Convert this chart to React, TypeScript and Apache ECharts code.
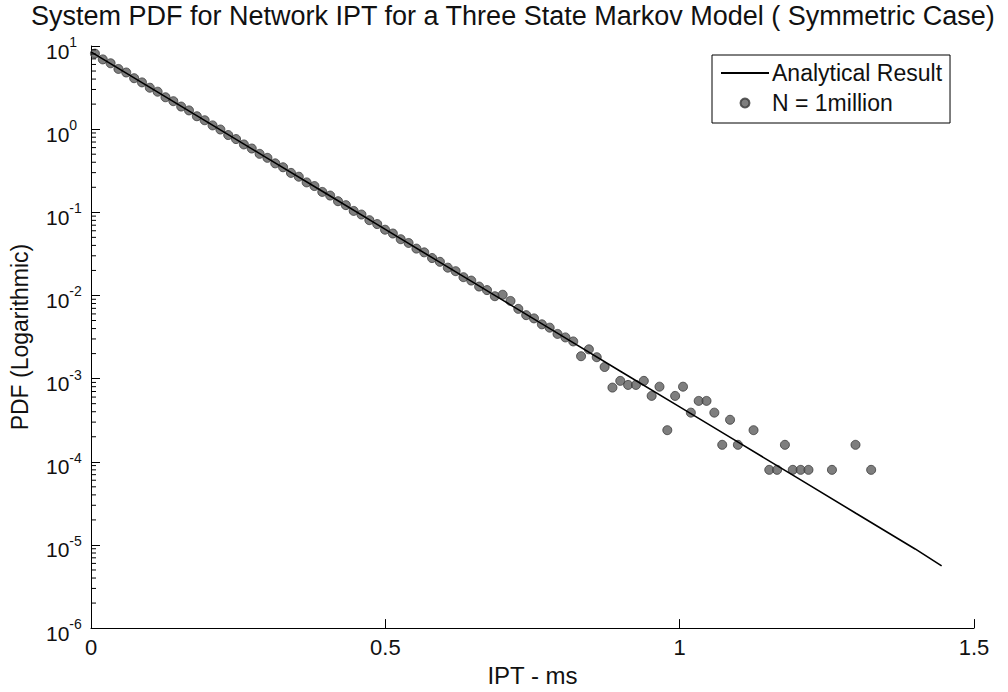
import React, { useEffect, useRef } from "react";
import * as echarts from "echarts";

const FONT = "'Liberation Sans', Arial, Helvetica, sans-serif";

const titleText = "System PDF for Network IPT for a Three State Markov Model ( Symmetric Case)";
const xAxisName = "IPT - ms";
const yAxisName = "PDF (Logarithmic)";
const lineName = "Analytical Result";
const pointsName = "N = 1million";

// Analytical result
const lineX = [0, 0.1, 0.2, 0.3, 0.4, 0.5, 0.6, 0.7, 0.8, 0.9, 1.0, 1.1, 1.2, 1.3, 1.4, 1.445];
const lineY = [8.5, 3.18, 1.19, 0.446, 0.167, 0.0624, 0.0233, 0.00873, 0.00327, 0.00122, 4.57e-4, 1.71e-4, 6.4e-5, 2.39e-5, 8.95e-6, 5.6e-6];

// Simulated histogram (N = 1 million), bin centres and PDF values
const simX = [
  0.0067, 0.0200, 0.0333, 0.0466, 0.0599, 0.0733, 0.0866, 0.0999, 0.1132, 0.1265,
  0.1399, 0.1532, 0.1665, 0.1798, 0.1931, 0.2065, 0.2198, 0.2331, 0.2464, 0.2597,
  0.2731, 0.2864, 0.2997, 0.3130, 0.3263, 0.3397, 0.3530, 0.3663, 0.3796, 0.3929,
  0.4063, 0.4196, 0.4329, 0.4462, 0.4595, 0.4729, 0.4862, 0.4995, 0.5128, 0.5261,
  0.5395, 0.5528, 0.5661, 0.5794, 0.5927, 0.6061, 0.6194, 0.6327, 0.6460, 0.6593,
  0.6727, 0.6860, 0.6993, 0.7126, 0.7259, 0.7393, 0.7526, 0.7659, 0.7792, 0.7925,
  0.8059, 0.8192, 0.8325, 0.8458, 0.8591, 0.8725, 0.8858, 0.8991, 0.9124, 0.9257,
  0.9391, 0.9524, 0.9657, 0.9790, 0.9923, 1.0057, 1.0190, 1.0323, 1.0456, 1.0589,
  1.0723, 1.0856, 1.0989, 1.1255, 1.1522, 1.1655, 1.1788, 1.1921, 1.2055, 1.2188,
  1.2587, 1.2987, 1.3253,
];
const simY = [
  8.1, 6.9, 6.2, 5.3, 4.8, 4.1, 3.65, 3.15, 2.82, 2.42,
  2.17, 1.87, 1.68, 1.43, 1.28, 1.11, 0.99, 0.85, 0.76, 0.655,
  0.585, 0.505, 0.452, 0.388, 0.348, 0.298, 0.268, 0.229, 0.207, 0.176,
  0.159, 0.136, 0.122, 0.104, 0.094, 0.0805, 0.0722, 0.0618, 0.0556, 0.0475,
  0.0428, 0.0366, 0.0330, 0.0282, 0.0254, 0.0216, 0.0196, 0.0166, 0.0151, 0.0128,
  0.0116, 0.0098, 0.0102, 0.0086, 0.0069, 0.0058, 0.0053, 0.0045, 0.0041, 0.00345,
  0.00313, 0.0028, 0.00186, 0.00225, 0.00181, 0.00138, 0.00078, 0.00094, 0.00084, 0.00084,
  0.00094, 0.00062, 0.0008, 0.00024, 0.00062, 0.0008, 0.00039, 0.00054, 0.00054, 0.00039,
  0.00016, 0.00032, 0.00016, 0.00024, 0.00008, 0.00008, 0.00016, 0.00008, 0.00008, 0.00008,
  0.00008, 0.00016, 0.00008,
];

// Axis ticks
const xTicks = [0, 0.5, 1, 1.5];
const yMin = 1e-6;
const yMax = 10;
const minorMultipliers = [2, 3, 4, 5, 6, 7, 8, 9];
const minorExponents = [-6, -5, -4, -3, -2, -1, 0];

export default function App() {
  const ref = useRef<HTMLDivElement>(null);

  useEffect(() => {
    if (!ref.current) return;
    const chart = echarts.init(ref.current, undefined, { renderer: "svg" });

    const minorTicks: number[][] = [];
    minorExponents.forEach((e) =>
      minorMultipliers.forEach((m) => minorTicks.push([0, m * Math.pow(10, e)]))
    );

    chart.setOption({
      animation: false,
      backgroundColor: "#ffffff",
      textStyle: { fontFamily: FONT, color: "#000" },
      title: {
        text: titleText,
        left: 26,
        top: -3,
        textStyle: { fontFamily: FONT, fontSize: 27, fontWeight: "normal", color: "#111" },
      },
      legend: {
        left: 712,
        top: 55,
        orient: "vertical",
        data: [
          { name: lineName, itemStyle: { opacity: 0 } },
          { name: pointsName },
        ],
        itemWidth: 48,
        itemHeight: 9,
        itemGap: 6,
        padding: [6, 8, 8, 8],
        borderColor: "#000",
        borderWidth: 1,
        borderRadius: 0,
        backgroundColor: "#fff",
        textStyle: { fontFamily: FONT, fontSize: 23, color: "#111", lineHeight: 24, padding: [0, 0, 0, -2] },
      },
      grid: { left: 90, right: 34, top: 46, bottom: 55, containLabel: false },
      xAxis: {
        type: "value",
        min: xTicks[0],
        max: xTicks[xTicks.length - 1],
        interval: 0.5,
        name: xAxisName,
        nameLocation: "middle",
        nameGap: 31,
        nameTextStyle: { fontFamily: FONT, fontSize: 24, color: "#111" },
        axisLine: { lineStyle: { color: "#000", width: 1 } },
        axisTick: { inside: true, length: 9, lineStyle: { color: "#000" } },
        axisLabel: {
          margin: 8,
          fontFamily: FONT,
          fontSize: 22,
          color: "#111",
          formatter: (v: number) => String(v),
        },
        splitLine: { show: false },
      },
      yAxis: {
        type: "log",
        logBase: 10,
        min: yMin,
        max: yMax,
        name: yAxisName,
        nameLocation: "middle",
        nameGap: 60,
        nameTextStyle: { fontFamily: FONT, fontSize: 23, color: "#111" },
        axisLine: { lineStyle: { color: "#000", width: 1 } },
        axisTick: { inside: true, length: 9, lineStyle: { color: "#000" } },
        axisLabel: {
          margin: 45,
          align: "left",
          fontFamily: FONT,
          color: "#111",
          formatter: (v: number) => `{b|10}{s|${Math.round(Math.log10(v))}}`,
          rich: {
            b: { fontFamily: FONT, fontSize: 21, color: "#111", lineHeight: 22, padding: [10, 0, 0, 0] },
            s: { fontFamily: FONT, fontSize: 14, color: "#111", lineHeight: 15, verticalAlign: "top" },
          },
        },
        splitLine: { show: false },
      },
      series: [
        {
          name: lineName,
          type: "line",
          data: lineX.map((x, i) => [x, lineY[i]]),
          symbol: "none",
          z: 4,
          itemStyle: { color: "#000" },
          lineStyle: { color: "#000", width: 1.6 },
        },
        {
          name: pointsName,
          type: "scatter",
          data: simX.map((x, i) => [x, simY[i]]),
          symbol: "circle",
          symbolSize: 9,
          z: 3,
          itemStyle: { color: "#5e5e5e", borderColor: "#3a3a3a", borderWidth: 1 },
        },
        {
          name: "minor-ticks",
          type: "custom",
          silent: true,
          z: 5,
          clip: false,
          data: minorTicks,
          renderItem: (params: any, api: any) => {
            const p = api.coord([0, api.value(1)]);
            return {
              type: "line",
              shape: { x1: p[0], y1: p[1], x2: p[0] + 5, y2: p[1] },
              style: { stroke: "#000", lineWidth: 1 },
            };
          },
        },
      ],
    });

    return () => chart.dispose();
  }, []);

  return (
    <div
      ref={ref}
      style={{ position: "fixed", left: 0, top: 0, width: 1008, height: 692, background: "#fff" }}
    />
  );
}
